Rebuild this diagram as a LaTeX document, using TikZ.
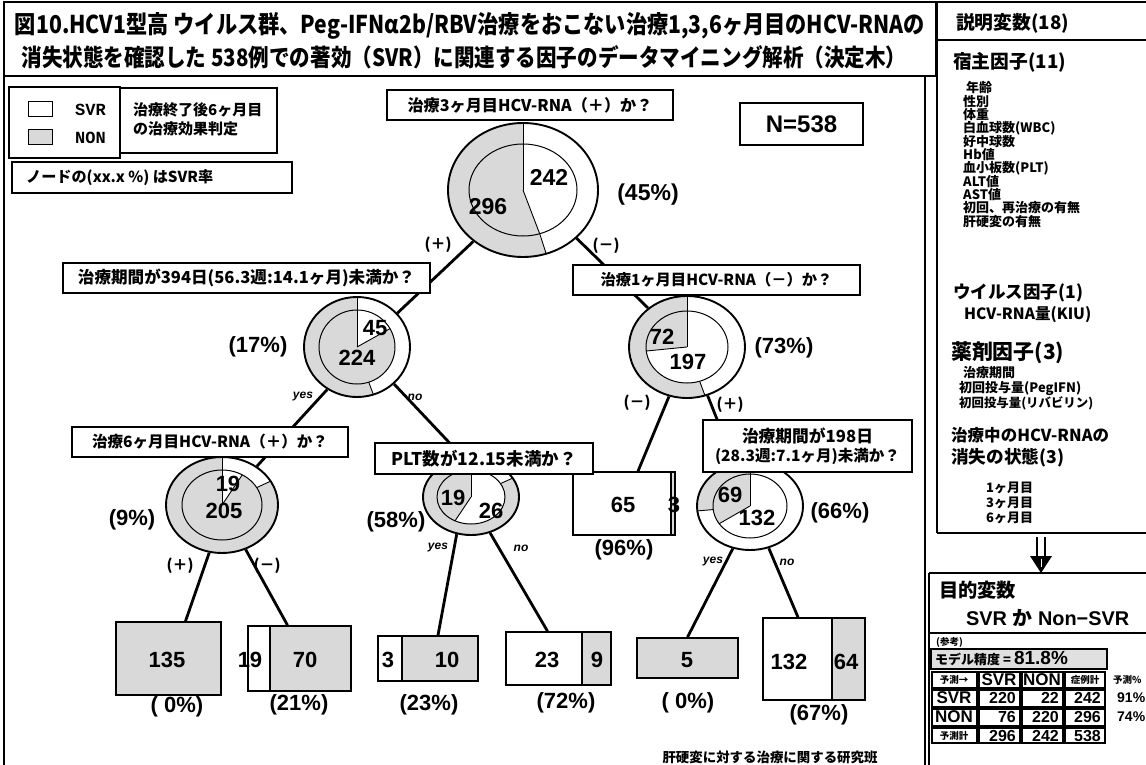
\documentclass[tikz,border=0pt]{standalone}
\usepackage{fontspec}
\usepackage{graphicx}
\setmainfont{Noto Sans CJK JP}
\newfontfamily\lsans{Liberation Sans}
\newfontfamily\lmono{Liberation Mono}
\usetikzlibrary{shapes.geometric,calc}

\newcommand{\fw}[2]{\resizebox{#1pt}{!}{#2}}
\newcommand{\qf}{\bfseries\fontsize{15}{15}\selectfont}
\newcommand{\lf}{\bfseries\fontsize{15}{15}\selectfont}
\newcommand{\rpf}{\bfseries\fontsize{13}{13}\selectfont}
\newcommand{\rph}{\bfseries\fontsize{19}{19}\selectfont}
\newcommand{\nf}{\lsans\bfseries\fontsize{22}{22}\selectfont}
\newcommand{\tf}{\lsans\bfseries\fontsize{16}{16}\selectfont}
\newcommand{\smallf}{\bfseries\fontsize{9.5}{9.5}\selectfont}

\tikzset{
  nonfill/.style={fill=black!15},
  frame/.style={line width=1.5pt},
  boxline/.style={line width=1.3pt},
  qbox/.style={draw, line width=1.3pt, fill=white, inner sep=0pt},
  edge/.style={line width=2.8pt},
  txt/.style={inner sep=0pt},
  pm/.style={inner sep=0pt, font=\bfseries\fontsize{15}{15}\selectfont},
  yn/.style={inner sep=0pt, font=\lsans\itshape\bfseries\fontsize{12}{12}\selectfont},
  cell/.style={line width=1.6pt},
}

% #1 name, #2 x, #3 y, #4 rx, #5 ry, #6 inner rx, #7 inner ry, #8 ring angle, #9 inner angle
\newcommand{\pienode}[9]{%
  \coordinate (#1c) at (#2,#3);
  \fill[nonfill] (#1c) ellipse[x radius=#4, y radius=#5];
  \fill[white] (#1c) -- ++(-90:#4 and #5) arc[start angle=-90, delta angle=#8, x radius=#4, y radius=#5] -- cycle;
  \fill[nonfill] (#1c) ellipse[x radius=#6, y radius=#7];
  \fill[white] (#1c) -- ++(-90:#6 and #7) arc[start angle=-90, delta angle=#9, x radius=#6, y radius=#7] -- cycle;
  \draw[line width=1pt] (#1c) ellipse[x radius=#6, y radius=#7];
  \draw[line width=0.9pt] (#1c) -- ++(-90:#4 and #5);
  \draw[line width=0.9pt] (#1c) -- ++({-90+#9}:#6 and #7);
  \draw[line width=0.9pt] ($(#1c)+({-90+#8}:#6 and #7)$) -- ($(#1c)+({-90+#8}:#4 and #5)$);
  \node[ellipse, draw, line width=1.9pt, minimum width={2*#4}, minimum height={2*#5}, inner sep=0pt] (#1) at (#1c) {};
}

% #1 name, #2 x1, #3 y1, #4 divider x, #5 x2, #6 y2
\newcommand{\leafnode}[6]{%
  \fill[white] (#2,#3) rectangle (#4,#6);
  \fill[nonfill] (#4,#3) rectangle (#5,#6);
  \draw[line width=1.3pt] (#4,#3) -- (#4,#6);
  \node[draw, line width=1.6pt, inner sep=0pt, minimum width={#5-#2}, minimum height={#6-#3}] (#1) at ({(#2+#5)/2},{(#3+#6)/2}) {};
}

% #1 name, #2 x1, #3 y1, #4 x2, #5 y2, #6 text
\newcommand{\qboxnode}[6]{%
  \node[qbox, minimum width={#4-#2}, minimum height={#5-#3}, align=center] (#1) at ({(#2+#4)/2},{(#3+#5)/2}) {#6};
}

\begin{document}
\begin{tikzpicture}[x=1pt,y=-1pt]
\useasboundingbox (0,0) rectangle (1146,765);
\fill[white] (0,0) rectangle (1146,765);

% ---------- frames ----------
\draw[frame] (4,2) rectangle (936,76);
\draw[frame] (4,76) -- (4,765);
\draw[frame] (925,76) -- (925,765);
\draw[frame] (937,2) -- (1146,2);
\draw[frame] (937,2) -- (937,533);
\draw[line width=1.2pt] (937,40) -- (1146,40);
\draw[frame] (937,533) -- (1146,533);
\draw[frame] (929,573) -- (1146,573);
\draw[frame] (929,573) -- (929,765);
\draw[frame] (929,633) -- (1146,633);

% ---------- title ----------
\node[txt] (title1) at (470,26) {\resizebox{910pt}{21pt}{\bfseries\fontsize{24}{24}\selectfont 図10.HCV1型高 ウイルス群、Peg-IFNα2b/RBV治療をおこない治療1,3,6ヶ月目のHCV-RNAの}};
\node[txt] (title2) at (464,57) {\resizebox{885pt}{21pt}{\bfseries\fontsize{24}{24}\selectfont 消失状態を確認した 538例での著効（SVR）に関連する因子のデータマイニング解析（決定木）}};

% ---------- legend ----------
\draw[boxline] (9,87) rectangle (120,158);
\draw[line width=1pt] (28,102) rectangle (52,117);
\filldraw[nonfill, draw=black, line width=1pt] (28,130) rectangle (52,145);
\node[txt, anchor=west] (lsvr) at (75,110) {\lmono\bfseries\fontsize{17}{17}\selectfont SVR};
\node[txt, anchor=west] (lnon) at (75,138) {\lmono\bfseries\fontsize{17}{17}\selectfont NON};
\draw[boxline] (120,88) rectangle (277,153);
\node[txt, anchor=west] (leg1) at (133,110) {\lf 治療終了後6ヶ月目};
\node[txt, anchor=west] (leg2) at (133,129) {\lf の治療効果判定};
\draw[boxline] (12,162) rectangle (292,193);
\node[txt, anchor=west] (leg3) at (26,178) {\fw{187}{\bfseries\fontsize{14}{14}\selectfont ノードの(xx.x \%) はSVR率}};

% ---------- N ----------
\node[draw, boxline, inner sep=0pt, minimum width=123, minimum height=42] (nbox) at (801.5,124) {\lsans\bfseries\fontsize{24}{24}\selectfont N=538};

% ---------- pies ----------
\pienode{C0}{523}{190}{75}{67}{54}{46}{162}{162}
\pienode{C1}{357}{347}{53}{50}{38}{37}{162}{60.2}
\pienode{C2}{687}{347}{58}{51}{41}{36}{162}{263.6}
\pienode{C3}{222}{505}{56}{48}{40}{35}{60.2}{30.5}
\pienode{C4}{471}{497}{48}{38}{34}{27}{60.2}{208}
\pienode{C5}{750}{506}{53}{44}{37}{32}{263.6}{236.4}

% ---------- leaves ----------
\leafnode{L1}{116}{622}{116}{221}{695}
\leafnode{L2}{248}{626}{270}{351}{691}
\leafnode{L3}{378}{636}{402}{478}{681}
\leafnode{L4}{506}{632}{582}{611}{685}
\leafnode{L5}{573}{472}{671}{675}{535}
\leafnode{L6}{637}{638}{637}{738}{678}
\leafnode{L7}{763}{618}{832}{865}{700}

% ---------- edges ----------
\draw[edge] (C0.226) -- (C1.40);
\draw[edge] (C0.318) -- (C2.135);
\draw[edge] (C1.235) -- (C3.48);
\draw[edge] (C1.315) -- (C4.100);
\draw[edge] (C2.250) -- ([xshift=14pt]L5.north);
\draw[edge] (C2.293) -- (C5.110);
\draw[edge] (C3.255) -- ([xshift=17pt]L1.north);
\draw[edge] (C3.298) -- ([xshift=-12pt]L2.north);
\draw[edge] (C4.249) -- ([xshift=10pt]L3.north);
\draw[edge] (C4.298) -- ([xshift=-11pt]L4.north);
\draw[edge] (C5.248) -- (L6.north);
\draw[edge] (C5.294) -- ([xshift=-16pt]L7.north);

% ---------- question boxes ----------
\qboxnode{Q0}{387}{90}{673}{120}{\fw{245}{\qf 治療3ヶ月目HCV-RNA（＋）か？}}
\qboxnode{Q1}{63}{263}{430}{293}{\fw{337}{\qf 治療期間が394日(56.3週:14.1ヶ月)未満か？}}
\qboxnode{Q2}{573}{265}{860}{295}{\fw{232}{\qf 治療1ヶ月目HCV-RNA（－）か？}}
\qboxnode{Q3}{72}{427}{348}{457}{\fw{236}{\qf 治療6ヶ月目HCV-RNA（＋）か？}}
\qboxnode{Q4}{375}{443}{593}{474}{\fw{185}{\qf PLT数が12.15未満か？}}
\qboxnode{Q5}{703}{420}{912}{472}{\fw{131}{\qf 治療期間が198日}\\[3pt]\fw{185}{\qf (28.3週:7.1ヶ月)未満か？}}

% ---------- pie numbers ----------
\node[txt] (n0a) at (549,177) {\lsans\bfseries\fontsize{23}{23}\selectfont 242};
\node[txt] (n0b) at (488,207) {\lsans\bfseries\fontsize{23}{23}\selectfont 296};
\node[txt] (p0) at (648,195) {\lsans\bfseries\fontsize{23}{23}\selectfont (45\%)};
\node[txt] (n1a) at (375,328) {\nf 45};
\node[txt] (n1b) at (357,358) {\nf 224};
\node[txt] (p1) at (258,347) {\nf (17\%)};
\node[txt] (n2a) at (662,337) {\nf 72};
\node[txt] (n2b) at (688,362) {\nf 197};
\node[txt] (p2) at (784,348) {\nf (73\%)};
\node[txt] (n3a) at (228,484) {\nf 19};
\node[txt] (n3b) at (224,511) {\nf 205};
\node[txt] (p3) at (132,520) {\nf (9\%)};
\node[txt] (n4a) at (453,498) {\nf 19};
\node[txt] (n4b) at (491,511) {\nf 26};
\node[txt] (p4) at (396,522) {\nf (58\%)};
\node[txt] (n5a) at (730,495) {\nf 69};
\node[txt] (n5b) at (757,518) {\nf 132};
\node[txt] (p5) at (840,513) {\nf (66\%)};

% ---------- branch labels ----------
\node[pm] (b0p) at (438,245) {(＋)};
\node[pm] (b0m) at (606,246) {(－)};
\node[pm] (b2m) at (637,403) {(－)};
\node[pm] (b2p) at (730,405) {(＋)};
\node[pm] (b3p) at (180,566) {(＋)};
\node[pm] (b3m) at (267,566) {(－)};
\node[yn] (y1) at (303,397) {yes};
\node[yn] (o1) at (415,397) {no};
\node[yn] (y4) at (438,548) {yes};
\node[yn] (o4) at (521,548) {no};
\node[yn] (y5) at (713,562) {yes};
\node[yn] (o5) at (787,562) {no};

% ---------- leaf numbers ----------
\node[txt] (t1) at (167,660) {\nf 135};
\node[txt] (t2a) at (250,660) {\nf 19};
\node[txt] (t2b) at (305,660) {\nf 70};
\node[txt] (t3a) at (388,660) {\nf 3};
\node[txt] (t3b) at (447,660) {\nf 10};
\node[txt] (t4a) at (547,660) {\nf 23};
\node[txt] (t4b) at (597,660) {\nf 9};
\node[txt] (t5a) at (623,505) {\nf 65};
\node[txt] (t5b) at (674,505) {\nf 3};
\node[txt] (t6) at (687,660) {\nf 5};
\node[txt] (t7a) at (789,662) {\nf 132};
\node[txt] (t7b) at (846,662) {\nf 64};
\node[txt] (r1) at (177,707) {\nf ( 0\%)};
\node[txt] (r2) at (299,705) {\nf (21\%)};
\node[txt] (r3) at (429,705) {\nf (23\%)};
\node[txt] (r4) at (566,703) {\nf (72\%)};
\node[txt] (r5) at (624,550) {\nf (96\%)};
\node[txt] (r6) at (688,703) {\nf ( 0\%)};
\node[txt] (r7) at (819,715) {\nf (67\%)};

% ---------- footer ----------
\node[txt] (foot) at (770,757) {\fw{215}{\bfseries\fontsize{13.5}{13.5}\selectfont 肝硬変に対する治療に関する研究班}};

% ---------- right panel ----------
\node[txt, anchor=west] (h0) at (956,23) {\fw{113}{\bfseries\fontsize{18}{18}\selectfont 説明変数(18)}};
\node[txt, anchor=west] (h1) at (953,62) {\fw{113}{\rph 宿主因子(11)}};
\node[txt, anchor=west] (i1) at (966,88) {\rpf 年齢};
\node[txt, anchor=west] (i2) at (963,102) {\rpf 性別};
\node[txt, anchor=west] (i3) at (963,115) {\rpf 体重};
\node[txt, anchor=west] (i4) at (963,128) {\rpf 白血球数(WBC)};
\node[txt, anchor=west] (i5) at (963,142) {\rpf 好中球数};
\node[txt, anchor=west] (i6) at (963,155) {\rpf Hb値};
\node[txt, anchor=west] (i7) at (963,168) {\rpf 血小板数(PLT)};
\node[txt, anchor=west] (i8) at (963,182) {\rpf ALT値};
\node[txt, anchor=west] (i9) at (963,195) {\rpf AST値};
\node[txt, anchor=west] (i10) at (963,208) {\rpf 初回、再治療の有無};
\node[txt, anchor=west] (i11) at (963,222) {\rpf 肝硬変の有無};
\node[txt, anchor=west] (h2) at (953,293) {\fw{130}{\rph ウイルス因子(1)}};
\node[txt, anchor=west] (j1) at (964,315) {\fw{127}{\bfseries\fontsize{15}{15}\selectfont HCV-RNA量(KIU)}};
\node[txt, anchor=west] (h3) at (951,353) {\fw{113}{\rph 薬剤因子(3)}};
\node[txt, anchor=west] (k1) at (963,373) {\rpf 治療期間};
\node[txt, anchor=west] (k2) at (959,388) {\fw{122}{\rpf 初回投与量(PegIFN)}};
\node[txt, anchor=west] (k3) at (959,403) {\fw{134}{\rpf 初回投与量(リバビリン)}};
\node[txt, anchor=west] (h4) at (951,435) {\fw{158}{\rph 治療中のHCV-RNAの}};
\node[txt, anchor=west] (h5) at (951,458) {\fw{113}{\rph 消失の状態(3)}};
\node[txt, anchor=west] (m1) at (986,488) {\rpf 1ヶ月目};
\node[txt, anchor=west] (m2) at (986,503) {\rpf 3ヶ月目};
\node[txt, anchor=west] (m3) at (986,518) {\rpf 6ヶ月目};

% arrow
\draw[line width=2pt] (1037,537) -- (1037,557);
\draw[line width=2pt] (1045,537) -- (1045,557);
\fill (1030,556) -- (1052,556) -- (1041,573) -- cycle;
\draw[white, line width=0.8pt] (1041,559) -- (1041,567);

\node[txt, anchor=west] (g0) at (939,590) {\fw{77}{\bfseries\fontsize{20}{20}\selectfont 目的変数}};
\node[txt, anchor=west] (g1) at (966,618) {\fw{163}{\lsans\bfseries\fontsize{20}{20}\selectfont SVR {\rmfamily か} Non−SVR}};

% reference table
\node[txt, anchor=west] (ref) at (936,642) {\smallf (参考)};
\fill[black!12] (931,649) rectangle (1107,669);
\draw[cell] (931,649) rectangle (1107,669);
\node[txt, anchor=west] (acc) at (935,659) {\bfseries\fontsize{13}{13}\selectfont モデル精度 = {\lsans\fontsize{19}{19}\selectfont 81.8\%}};
\foreach \ya/\yb in {671/689,689/708,708/727,727/744}{
  \foreach \xa/\xb in {931/978,978/1021,1021/1064,1064/1106}{
    \draw[cell] (\xa+1,\ya+1) rectangle (\xb-1,\yb-1);
  }
}
\node[txt] (c00) at (954,680) {\smallf 予測→};
\node[txt] (c01) at (999,680) {\lsans\bfseries\fontsize{17}{17}\selectfont SVR};
\node[txt] (c02) at (1042,680) {\lsans\bfseries\fontsize{17}{17}\selectfont NON};
\node[txt] (c03) at (1085,680) {\smallf 症例計};
\node[txt] (c10) at (954,698) {\lsans\bfseries\fontsize{17}{17}\selectfont SVR};
\node[txt] (c20) at (954,717) {\lsans\bfseries\fontsize{17}{17}\selectfont NON};
\node[txt] (c30) at (954,736) {\smallf 予測計};
\node[txt, anchor=east] (c11) at (1016,698) {\tf 220};
\node[txt, anchor=east] (c12) at (1059,698) {\tf 22};
\node[txt, anchor=east] (c13) at (1101,698) {\tf 242};
\node[txt, anchor=east] (c21) at (1016,717) {\tf 76};
\node[txt, anchor=east] (c22) at (1059,717) {\tf 220};
\node[txt, anchor=east] (c23) at (1101,717) {\tf 296};
\node[txt, anchor=east] (c31) at (1016,736) {\tf 296};
\node[txt, anchor=east] (c32) at (1059,736) {\tf 242};
\node[txt, anchor=east] (c33) at (1101,736) {\tf 538};
\node[txt, anchor=west] (c04) at (1113,680) {\smallf 予測\%};
\node[txt, anchor=west] (c14) at (1117,698) {\lsans\bfseries\fontsize{14}{14}\selectfont 91\%};
\node[txt, anchor=west] (c24) at (1117,717) {\lsans\bfseries\fontsize{14}{14}\selectfont 74\%};
\end{tikzpicture}
\end{document}
